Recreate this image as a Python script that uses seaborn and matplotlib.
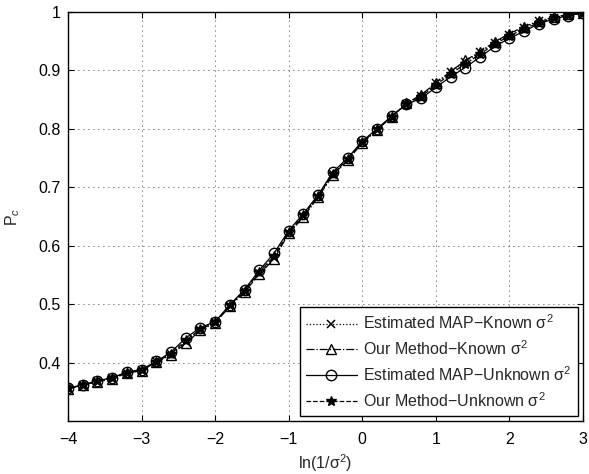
import numpy as np
import pandas as pd
import matplotlib
matplotlib.use("Agg")
import matplotlib.pyplot as plt
import seaborn as sns

# ---- data ----
x_vals = [-4.0, -3.8, -3.6, -3.4, -3.2, -3.0, -2.8, -2.6, -2.4, -2.2, -2.0, -1.8,
          -1.6, -1.4, -1.2, -1.0, -0.8, -0.6, -0.4, -0.2, 0.0, 0.2, 0.4, 0.6,
          0.8, 1.0, 1.2, 1.4, 1.6, 1.8, 2.0, 2.2, 2.4, 2.6, 2.8, 3.0]

map_known = [0.356, 0.362, 0.368, 0.373, 0.383, 0.387, 0.402, 0.414, 0.435, 0.456, 0.469, 0.497,
             0.522, 0.553, 0.579, 0.622, 0.651, 0.684, 0.722, 0.747, 0.777, 0.798, 0.821, 0.843,
             0.857, 0.878, 0.897, 0.915, 0.931, 0.947, 0.961, 0.973, 0.984, 0.990, 0.995, 0.998]

our_known = [0.355, 0.361, 0.367, 0.372, 0.382, 0.386, 0.401, 0.413, 0.433, 0.455, 0.468, 0.496,
             0.521, 0.551, 0.577, 0.621, 0.649, 0.683, 0.721, 0.746, 0.776, 0.798, 0.821, 0.844,
             0.858, 0.879, 0.898, 0.917, 0.932, 0.949, 0.963, 0.975, 0.985, 0.991, 0.996, 0.998]

map_unknown = [0.356, 0.362, 0.369, 0.374, 0.384, 0.388, 0.402, 0.418, 0.442, 0.460, 0.470, 0.499,
               0.525, 0.558, 0.587, 0.626, 0.655, 0.687, 0.726, 0.750, 0.779, 0.800, 0.822, 0.842,
               0.852, 0.871, 0.889, 0.905, 0.923, 0.941, 0.955, 0.967, 0.980, 0.988, 0.994, 0.998]

our_unknown = [0.356, 0.361, 0.368, 0.373, 0.383, 0.387, 0.401, 0.415, 0.438, 0.457, 0.469, 0.498,
               0.523, 0.555, 0.582, 0.623, 0.652, 0.685, 0.723, 0.748, 0.777, 0.799, 0.821, 0.843,
               0.855, 0.875, 0.894, 0.911, 0.928, 0.945, 0.959, 0.971, 0.982, 0.989, 0.995, 0.998]

labels = ["Estimated MAP\u2212Known \u03c3$^2$",
          "Our Method\u2212Known \u03c3$^2$",
          "Estimated MAP\u2212Unknown \u03c3$^2$",
          "Our Method\u2212Unknown \u03c3$^2$"]

x_ticks = [-4, -3, -2, -1, 0, 1, 2, 3]
y_ticks = [0.4, 0.5, 0.6, 0.7, 0.8, 0.9, 1.0]
y_ticklabels = ["0.4", "0.5", "0.6", "0.7", "0.8", "0.9", "1"]

# ---- style ----
sns.set_style("white")
plt.rcParams["font.family"] = ["Liberation Sans", "DejaVu Sans"]
plt.rcParams["mathtext.fontset"] = "custom"
plt.rcParams["mathtext.rm"] = "Liberation Sans"
plt.rcParams["mathtext.it"] = "Liberation Sans:italic"
FS = 11.5
plt.rcParams["font.size"] = FS

fig = plt.figure(figsize=(5.89, 4.74), dpi=100)
ax = fig.add_axes([68 / 589, 53 / 474, (583 - 68) / 589, (421 - 12) / 474])

styles = [
    (":", "x", "k", 6, 1.1),
    ("-.", "^", "none", 6.5, 1.0),
    ("-", "o", "none", 7.5, 1.0),
    ("--", "*", "k", 7.5, 1.0),
]

handles = []
for vals, lab, (ls, mk, mfc, ms, mew) in zip(
        [map_known, our_known, map_unknown, our_unknown], labels, styles):
    df = pd.DataFrame({"x": x_vals, "y": vals})
    sns.lineplot(data=df, x="x", y="y", ax=ax, color="k", linestyle=ls,
                 marker=mk, markersize=ms, markerfacecolor=mfc,
                 markeredgecolor="k", markeredgewidth=mew, linewidth=0.9,
                 legend=False)
    handles.append(ax.get_lines()[-1])

ax.set_xlim(-4, 3)
ax.set_ylim(0.3, 1.0)
ax.set_xticks(x_ticks)
ax.set_xticklabels([("\u2212" + str(abs(t))) if t < 0 else str(t) for t in x_ticks])
ax.set_yticks(y_ticks)
ax.set_yticklabels(y_ticklabels)

ax.grid(True, color="k", linestyle=(0, (1, 5)), linewidth=0.6)
for s in ax.spines.values():
    s.set_visible(True)
    s.set_color("k")
    s.set_linewidth(1.0)
ax.tick_params(direction="in", length=4, width=0.8, top=True, right=True,
               bottom=True, left=True, labelsize=FS, colors="k")
ax.tick_params(axis="x", pad=8)
ax.tick_params(axis="y", pad=5)

ax.set_xlabel("ln(1/\u03c3$^2$)", fontsize=FS, labelpad=4)
ax.set_ylabel("P$_c$", fontsize=FS, labelpad=12)

leg = ax.legend(handles, labels, loc="lower right", fancybox=False, edgecolor="k",
                framealpha=1, fontsize=FS, handlelength=3.2, handletextpad=0.4,
                labelspacing=0.45, borderaxespad=0.3, borderpad=0.4, numpoints=1)
leg.get_frame().set_linewidth(1.0)

fig.savefig("out.png", dpi=100)
